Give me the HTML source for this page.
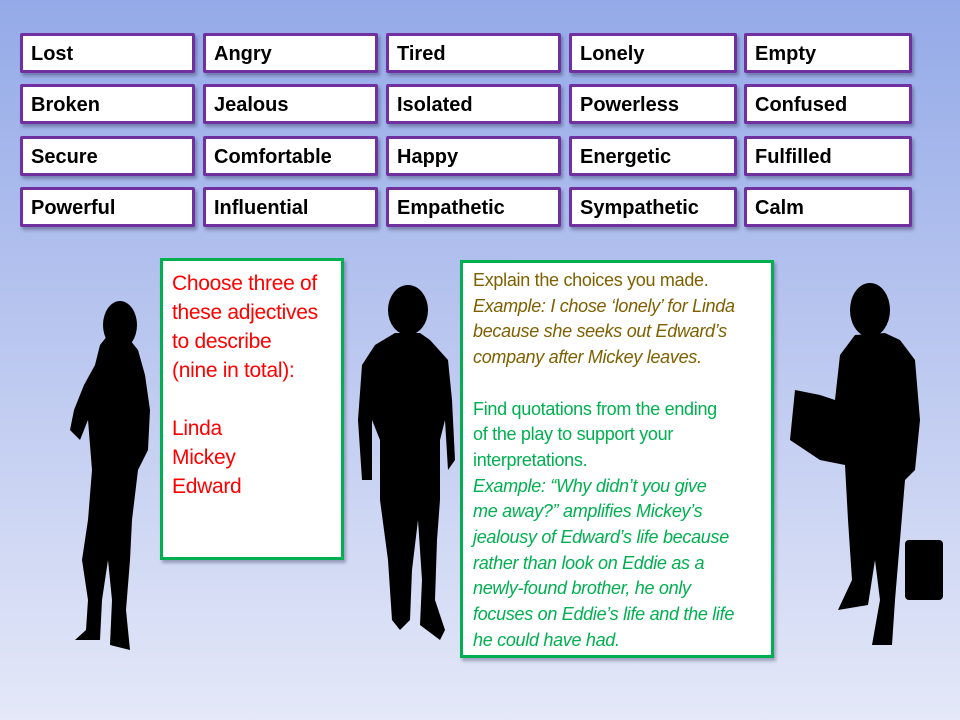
<!DOCTYPE html>
<html><head><meta charset="utf-8"><style>
body{margin:0;width:960px;height:720px;overflow:hidden;background:linear-gradient(#94aae8,#b4c2ee 40%,#e4e8f8);font-family:"Liberation Sans",sans-serif;position:relative}
.b{position:absolute;width:170px;height:34px;background:#fff;border:3px solid #7030a0;border-radius:2px;box-shadow:2px 3px 3px rgba(60,60,100,.45);font-weight:bold;font-size:20px;line-height:36px;padding-left:8px;box-sizing:content-box}
.g{position:absolute;background:#fff;border:3px solid #00b050;box-shadow:2px 3px 3px rgba(60,60,100,.4)}
svg{position:absolute;left:0;top:0}
</style></head><body>
<div class="b" style="left:20px;top:33px;width:161px">Lost</div>
<div class="b" style="left:203px;top:33px;width:161px">Angry</div>
<div class="b" style="left:386px;top:33px;width:161px">Tired</div>
<div class="b" style="left:569px;top:33px;width:154px">Lonely</div>
<div class="b" style="left:744px;top:33px;width:154px">Empty</div>
<div class="b" style="left:20px;top:84px;width:161px">Broken</div>
<div class="b" style="left:203px;top:84px;width:161px">Jealous</div>
<div class="b" style="left:386px;top:84px;width:161px">Isolated</div>
<div class="b" style="left:569px;top:84px;width:154px">Powerless</div>
<div class="b" style="left:744px;top:84px;width:154px">Confused</div>
<div class="b" style="left:20px;top:136px;width:161px">Secure</div>
<div class="b" style="left:203px;top:136px;width:161px">Comfortable</div>
<div class="b" style="left:386px;top:136px;width:161px">Happy</div>
<div class="b" style="left:569px;top:136px;width:154px">Energetic</div>
<div class="b" style="left:744px;top:136px;width:154px">Fulfilled</div>
<div class="b" style="left:20px;top:187px;width:161px">Powerful</div>
<div class="b" style="left:203px;top:187px;width:161px">Influential</div>
<div class="b" style="left:386px;top:187px;width:161px">Empathetic</div>
<div class="b" style="left:569px;top:187px;width:154px">Sympathetic</div>
<div class="b" style="left:744px;top:187px;width:154px">Calm</div>

<svg width="960" height="720">
<g fill="#000">
<ellipse cx="120" cy="325" rx="17" ry="24"/>
<path d="M108 335 L100 345 L95 365 L84 385 L74 410 L70 430 L80 440 L88 420 L92 470 L88 520 L82 560 L88 600 L86 630 L75 640 L100 640 L102 600 L108 560 L112 600 L110 645 L130 650 L126 610 L130 560 L132 520 L138 470 L148 450 L150 410 L145 375 L138 350 L130 340 Z"/>
<ellipse cx="408" cy="310" rx="20" ry="25"/>
<path d="M395 333 L375 345 L362 365 L358 420 L362 480 L372 480 L372 420 L380 440 L380 500 L388 560 L392 620 L400 630 L410 620 L412 570 L418 520 L422 580 L420 625 L440 640 L445 630 L435 600 L437 540 L440 500 L440 440 L445 420 L448 470 L455 460 L452 400 L448 360 L430 340 L420 333 Z"/>
<ellipse cx="870" cy="310" rx="20" ry="27"/>
<path d="M855 335 L840 355 L835 400 L820 395 L795 390 L790 440 L820 460 L845 465 L848 520 L852 580 L838 610 L868 605 L875 560 L880 600 L872 645 L892 645 L895 600 L900 540 L905 480 L915 470 L920 420 L915 360 L900 340 L885 333 Z"/>
<rect x="905" y="540" width="38" height="60" rx="4"/>
</g>
</svg>

<div class="g" style="left:160px;top:258px;width:178px;height:296px;padding:0"><div style="color:#ff0000;font-size:21px;line-height:29px;padding:8px 0 0 9px;white-space:nowrap;letter-spacing:-0.3px">Choose three of<br>these adjectives<br>to describe<br>(nine in total):<br><br>Linda<br>Mickey<br>Edward</div></div>

<div class="g" style="left:460px;top:260px;width:308px;height:392px"><div style="font-size:18px;line-height:25.7px;padding:5px 0 0 10px;color:#00b050;white-space:nowrap;letter-spacing:-0.3px">
<span style="color:#7f6000">Explain the choices you made.<br><i>Example: I chose ‘lonely’ for Linda<br>because she seeks out Edward’s<br>company after Mickey leaves.</i></span><br><br>Find quotations from the ending<br>of the play to support your<br>interpretations.<br><i>Example: “Why didn’t you give<br>me away?” amplifies Mickey’s<br>jealousy of Edward’s life because<br>rather than look on Eddie as a<br>newly-found brother, he only<br>focuses on Eddie’s life and the life<br>he could have had.</i></div></div>
</body></html>
